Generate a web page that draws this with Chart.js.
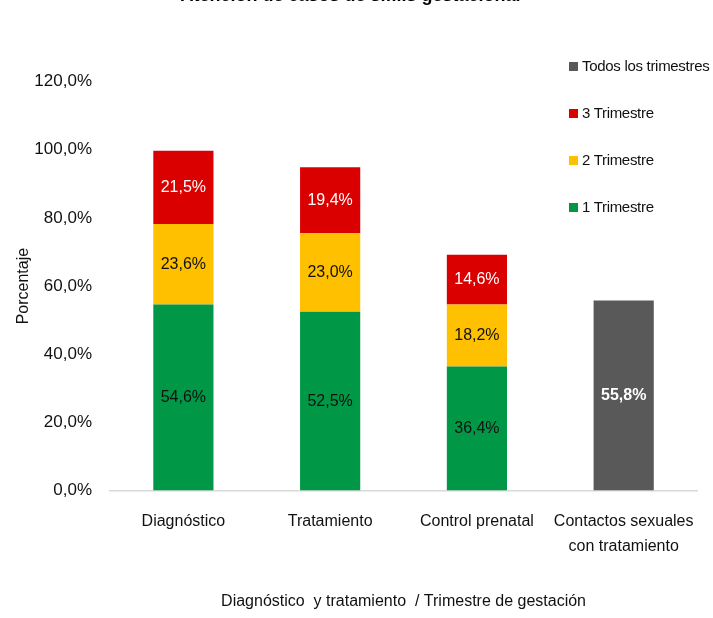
<!DOCTYPE html>
<html>
<head>
<meta charset="utf-8">
<script src="https://cdn.jsdelivr.net/npm/chart.js@4.4.0/dist/chart.umd.min.js"></script>
<style>
  html, body { margin: 0; padding: 0; background: #fff; }
  #wrap { position: relative; width: 713px; height: 618px; overflow: hidden; }
  #chart { position: absolute; left: 0; top: -20px; }
  #legend { position: absolute; left: 569px; top: 0; font-family: 'Liberation Sans Narrow', 'Arial Narrow', 'Liberation Sans', Arial, sans-serif; font-size: 15px; letter-spacing: -0.3px; color: #111; }
  #legend .item { position: absolute; left: 0; height: 24px; line-height: 24px; white-space: nowrap; }
  #legend .box { display: inline-block; width: 9px; height: 9px; margin-right: 4px; vertical-align: 0px; }
</style>
</head>
<body>
<div id="wrap">
  <canvas id="chart" width="713" height="638"></canvas>
  <div id="legend"></div>
</div>
<script>
const FONT = "'Liberation Sans Narrow', 'Arial Narrow', 'Liberation Sans', Arial, sans-serif";

const categories = ['Diagnóstico', 'Tratamiento', 'Control prenatal', ['Contactos sexuales', 'con tratamiento']];
const trimestre1 = [54.6, 52.5, 36.4, null];
const trimestre2 = [23.6, 23.0, 18.2, null];
const trimestre3 = [21.5, 19.4, 14.6, null];
const todos = [null, null, null, 55.8];

const seriesNames = ['1 Trimestre', '2 Trimestre', '3 Trimestre', 'Todos los trimestres'];
const seriesColors = ['rgb(0,152,70)', 'rgb(255,192,0)', 'rgb(218,0,0)', 'rgb(89,89,89)'];
const labelColors = ['#111', '#111', '#fff', '#fff'];

function pct(v) {
    return v.toFixed(1).replace('.', ',') + '%';
}

Chart.defaults.font.family = FONT;
Chart.defaults.color = '#111';

// etiquetas dentro de cada barra
const barLabels = {
    id: 'barLabels',
    afterDatasetsDraw(chart) {
        const ctx = chart.ctx;
        ctx.save();
        ctx.textAlign = 'center';
        ctx.textBaseline = 'middle';
        chart.data.datasets.forEach((ds, i) => {
            const meta = chart.getDatasetMeta(i);
            meta.data.forEach((bar, j) => {
                const v = ds.data[j];
                if (v == null) return;
                ctx.fillStyle = labelColors[i];
                ctx.font = (i === 3 ? 'bold ' : '') + '16px ' + FONT;
                ctx.fillText(pct(v), bar.x, (bar.y + bar.base) / 2);
            });
        });
        ctx.restore();
    }
};

const datasets = [trimestre1, trimestre2, trimestre3, todos].map((d, i) => ({
    label: seriesNames[i],
    data: d,
    backgroundColor: seriesColors[i],
    borderWidth: 0,
    barPercentage: 0.41,
    categoryPercentage: 1
}));

const chart = new Chart('chart', {
    type: 'bar',
    data: { labels: categories, datasets: datasets },
    options: {
        responsive: false,
        animation: false,
        layout: { padding: { left: 0, right: 12, top: 0, bottom: 7 } },
        plugins: {
            legend: { display: false },
            tooltip: { enabled: false },
            title: {
                display: true,
                text: 'Atención de casos de sífilis gestacional',
                color: '#000',
                font: { size: 18, weight: 'bold' },
                padding: { top: 5, bottom: 75 }
            }
        },
        scales: {
            x: {
                stacked: true,
                grid: { display: false, drawTicks: false },
                border: { color: '#d9d9d9', width: 1.5 },
                ticks: { font: { size: 16, lineHeight: 1.6 }, color: '#111', padding: 18, maxRotation: 0, autoSkip: false },
                title: {
                    display: true,
                    text: 'Diagnóstico  y tratamiento  / Trimestre de gestación',
                    color: '#111',
                    font: { size: 16 },
                    padding: { top: 14, bottom: 0 }
                }
            },
            y: {
                stacked: true,
                min: 0,
                max: 120,
                afterFit(scale) { scale.width = 110; },
                grid: { display: false, drawTicks: false },
                border: { display: false },
                ticks: { stepSize: 20, font: { size: 17 }, color: '#111', padding: 18, callback: v => pct(v) },
                title: {
                    display: true,
                    text: 'Porcentaje',
                    color: '#111',
                    font: { size: 16 },
                    padding: { top: 14, bottom: 0 }
                }
            }
        }
    },
    plugins: [barLabels]
});

// leyenda a la derecha, en orden inverso
const legend = document.getElementById('legend');
chart.data.datasets.slice().reverse().forEach((ds, k) => {
    const item = document.createElement('div');
    item.className = 'item';
    item.style.top = (54 + 47 * k) + 'px';
    const box = document.createElement('span');
    box.className = 'box';
    box.style.background = ds.backgroundColor;
    item.appendChild(box);
    item.appendChild(document.createTextNode(ds.label));
    legend.appendChild(item);
});
</script>
</body>
</html>
